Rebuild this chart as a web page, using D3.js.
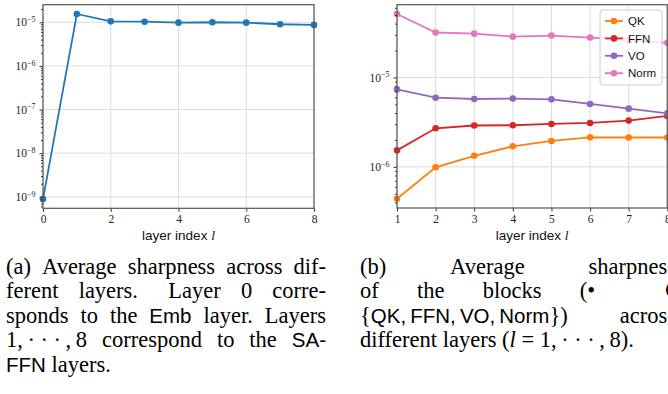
<!DOCTYPE html>
<html>
<head>
<meta charset="utf-8">
<script src="https://cdn.jsdelivr.net/npm/d3@7"></script>
<style>
  body { margin: 0; background: #fff; }
  svg { display: block; }
</style>
</head>
<body>
<svg id="fig" width="668" height="394"></svg>
<script>
// (a) average sharpness per layer, layer 0 = Emb
const layersAll = [0, 1, 2, 3, 4, 5, 6, 7, 8];
const avgSharpness = [8.9e-10, 1.55e-5, 1.05e-5, 1.03e-5, 0.98e-5, 1.0e-5, 0.98e-5, 0.9e-5, 0.87e-5];
const leftXTicks = [0, 2, 4, 6, 8];

// (b) sharpness of the blocks per layer
const layersSA = [1, 2, 3, 4, 5, 6, 7, 8];
const blockNames = ["QK", "FFN", "VO", "Norm"];
const qkVals = [4.4e-7, 9.9e-7, 1.33e-6, 1.7e-6, 1.95e-6, 2.14e-6, 2.13e-6, 2.13e-6];
const ffnVals = [1.53e-6, 2.7e-6, 2.9e-6, 2.92e-6, 3.02e-6, 3.1e-6, 3.29e-6, 3.71e-6];
const voVals = [7.35e-6, 5.94e-6, 5.74e-6, 5.8e-6, 5.69e-6, 5.05e-6, 4.48e-6, 3.97e-6];
const normVals = [5.13e-5, 3.18e-5, 3.09e-5, 2.86e-5, 2.94e-5, 2.79e-5, 2.61e-5, 2.44e-5];
const rightXTicks = [1, 2, 3, 4, 5, 6, 7, 8];

// captions: words are strings (serif) or lists of [text, kind] parts
const dots = "1,\u2009\u00b7 \u00b7 \u00b7\u2009,\u20098";
const captionA = [
  { just: true, words: ["(a)", "Average", "sharpness", "across", "dif-"] },
  { just: true, words: ["ferent", "layers.", "Layer", [["0", "m"]], "corre-"], w: [1, 1.5, 1, 1] },
  { just: true, words: ["sponds", "to", "the", [["Emb", "s"]], "layer.", "Layers"] },
  { just: true, words: [[[dots, "m"]], "correspond", "to", "the", [["SA-", "s"]]] },
  { just: false, words: [[["FFN", "s"]], "layers."] }
];
const captionB = [
  { just: true, words: ["(b)", "Average", "sharpness"] },
  { just: true, words: ["of", "the", "blocks", "(\u2022", "\u2208"], w: [1, 1, 1, 1.8], right: 684 },
  { just: true, words: [[["{", "m"], ["QK,\u2009FFN,\u2009VO,\u2009Norm", "s"], ["})", "m"]], "across"] },
  { just: false, words: ["different", "layers", [["(", "m"], ["l", "mi"], [" = " + dots + ").", "m"]]] }
];

const C = { blue: "#1f77b4", orange: "#ff7f0e", red: "#d62728", purple: "#9467bd", pink: "#e377c2" };
const serif = "'Liberation Serif', 'Times New Roman', serif";
const sans = "'Liberation Sans', Arial, sans-serif";

const svg = d3.select("#fig");

function panel(box, xDomain, xTicks, xs, series) {
  const x = d3.scaleLinear().domain(xDomain).range([box.x0, box.x1]);
  const all = series.flatMap(s => s.values);
  const lo = Math.log10(d3.min(all)), hi = Math.log10(d3.max(all));
  const pad = (hi - lo) * 0.05;
  const y = d3.scaleLog().domain([10 ** (lo - pad), 10 ** (hi + pad)]).range([box.y1, box.y0]);

  const majors = d3.range(Math.ceil(lo - pad), Math.floor(hi + pad) + 1);
  const minors = [];
  for (let k = Math.floor(lo - pad); k <= Math.ceil(hi + pad); k++) {
    for (let m = 2; m <= 9; m++) {
      const v = m * 10 ** k;
      if (v >= y.domain()[0] && v <= y.domain()[1]) minors.push(v);
    }
  }

  const g = svg.append("g");

  // grid
  g.append("g").selectAll("line").data(xTicks).join("line")
    .attr("x1", d => x(d)).attr("x2", d => x(d))
    .attr("y1", box.y0).attr("y2", box.y1)
    .attr("stroke", "#dcdcdc").attr("stroke-width", 1);
  g.append("g").selectAll("line").data(majors).join("line")
    .attr("x1", box.x0).attr("x2", box.x1)
    .attr("y1", d => y(10 ** d)).attr("y2", d => y(10 ** d))
    .attr("stroke", "#dcdcdc").attr("stroke-width", 1);

  // series
  const line = d3.line().x((d, i) => x(xs[i])).y(d => y(d));
  series.forEach(s => {
    g.append("path").datum(s.values)
      .attr("d", line).attr("fill", "none")
      .attr("stroke", s.color).attr("stroke-width", 1.8);
    g.append("g").selectAll("circle").data(s.values).join("circle")
      .attr("cx", (d, i) => x(xs[i])).attr("cy", d => y(d))
      .attr("r", 3.3).attr("fill", s.color);
  });

  // x axis
  const xa = g.append("g").attr("transform", `translate(0,${box.y1})`)
    .call(d3.axisBottom(x).tickValues(xTicks).tickSize(3.5).tickPadding(3).tickFormat(d3.format("d")));
  xa.select(".domain").remove();
  xa.selectAll("line").attr("stroke", "#333");
  xa.selectAll("text").attr("font-family", serif).attr("font-size", 11.5).attr("fill", "#222");

  // y axis, minor ticks
  const ym = g.append("g").attr("transform", `translate(${box.x0},0)`)
    .call(d3.axisLeft(y).tickValues(minors).tickSize(2).tickFormat(""));
  ym.select(".domain").remove();
  ym.selectAll("line").attr("stroke", "#333");

  // y axis, major ticks with 10^k labels
  const ya = g.append("g").attr("transform", `translate(${box.x0},0)`)
    .call(d3.axisLeft(y).tickValues(majors.map(k => 10 ** k)).tickSize(3.5).tickPadding(4).tickFormat(""));
  ya.select(".domain").remove();
  ya.selectAll("line").attr("stroke", "#333");
  ya.selectAll(".tick text").each(function (d) {
    const t = d3.select(this).attr("font-family", serif).attr("font-size", 11.5).attr("fill", "#222");
    t.append("tspan").text("10");
    t.append("tspan").attr("dy", -4.5).attr("font-size", 8)
      .text("\u2212" + Math.abs(Math.round(Math.log10(d))));
  });

  // spines
  g.append("rect")
    .attr("x", box.x0).attr("y", box.y0)
    .attr("width", box.x1 - box.x0).attr("height", box.y1 - box.y0)
    .attr("fill", "none").attr("stroke", "#555").attr("stroke-width", 1.2);

  // x label
  const xl = g.append("text")
    .attr("x", (box.x0 + box.x1) / 2).attr("y", 240)
    .attr("text-anchor", "middle").attr("font-family", sans).attr("font-size", 13.5).attr("fill", "#111");
  xl.append("tspan").text("layer index ");
  xl.append("tspan").attr("font-family", serif).attr("font-style", "italic").text("l");

  return { x, y, g };
}

// (a)
panel({ x0: 43, x1: 314, y0: 4.7, y1: 208.3 }, [0, 8], leftXTicks, layersAll,
  [{ values: avgSharpness, color: C.blue }]);

// (b)
const blockSeries = [
  { name: blockNames[0], values: qkVals, color: C.orange },
  { name: blockNames[1], values: ffnVals, color: C.red },
  { name: blockNames[2], values: voVals, color: C.purple },
  { name: blockNames[3], values: normVals, color: C.pink }
];
panel({ x0: 397, x1: 667.3, y0: 4.7, y1: 208 }, [1, 8], rightXTicks, layersSA, blockSeries);

// legend
const lg = svg.append("g").attr("transform", "translate(600,10)");
lg.append("rect").attr("width", 62).attr("height", 75).attr("rx", 3)
  .attr("fill", "#fff").attr("fill-opacity", 0.8).attr("stroke", "#cccccc").attr("stroke-width", 1);
blockSeries.forEach((s, i) => {
  const yy = 11 + i * 17.4;
  lg.append("line").attr("x1", 5).attr("x2", 23).attr("y1", yy).attr("y2", yy)
    .attr("stroke", s.color).attr("stroke-width", 1.8);
  lg.append("circle").attr("cx", 14).attr("cy", yy).attr("r", 3.3).attr("fill", s.color);
  lg.append("text").attr("x", 28).attr("y", yy).attr("dy", "0.36em")
    .attr("font-family", sans).attr("font-size", 11.5).attr("fill", "#111").text(s.name);
});

// captions, justified like the LaTeX source
const capSize = 22.5, capSans = 20.5;
function caption(lines, left, right, top, lead) {
  lines.forEach((ln, li) => {
    const by = top + li * lead;
    const nodes = ln.words.map(w => {
      const parts = typeof w === "string" ? [[w, "r"]] : w;
      const t = svg.append("text").attr("y", by).attr("font-size", capSize).attr("fill", "#000");
      parts.forEach(([txt, kind]) => {
        t.append("tspan").text(txt)
          .attr("font-family", kind === "s" ? sans : serif)
          .attr("font-size", kind === "s" ? capSans : null)
          .attr("font-style", kind === "mi" ? "italic" : null);
      });
      return t;
    });
    const widths = nodes.map(n => n.node().getComputedTextLength());
    const total = d3.sum(widths);
    const wts = ln.w || d3.range(nodes.length - 1).map(() => 1);
    const r = ln.right || right;
    const unit = ln.just && nodes.length > 1 ? (r - left - total) / d3.sum(wts) : capSize * 0.25;
    let cx = left;
    nodes.forEach((n, i) => {
      n.attr("x", cx);
      cx += widths[i] + (ln.just ? unit * (wts[i] || 0) : unit);
    });
  });
}
caption(captionA, 6, 326, 273.5, 24.5);
caption(captionB, 360, 676, 273.5, 24.5);
</script>
</body>
</html>
